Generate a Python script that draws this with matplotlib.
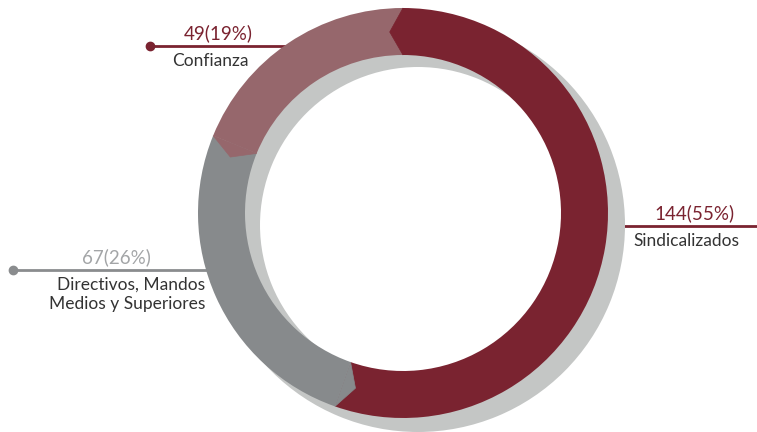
import numpy as np
import matplotlib.pyplot as plt
from matplotlib.patches import Polygon

# data
categories = ["Sindicalizados", "Directivos, Mandos\nMedios y Superiores", "Confianza"]
counts = [144, 67, 49]
percents = [55, 26, 19]
colors = ["#7a2330", "#878a8c", "#96676c"]
num_colors = ["#7a2330", "#a3a5a7", "#7a2330"]
line_colors = ["#7a2330", "#8a8c8e", "#7a2330"]

W, H = 757, 432
cx, cy = 403, H - 213
r_out, ring_w = 205, 47
r_in = r_out - ring_w

plt.rcParams['font.family'] = ['Lato', 'DejaVu Sans']

fig = plt.figure(figsize=(W / 100, H / 100), dpi=100)
ax = fig.add_axes([0, 0, 1, 1])

# shadow ring
ax.pie([1], colors=["#c4c6c5"], radius=r_out + 2, center=(cx + 15, cy - 12),
       wedgeprops=dict(width=ring_w + 2, linewidth=0), frame=True)

# main ring
ax.pie(counts, colors=colors, radius=r_out, center=(cx, cy), startangle=90,
       counterclock=False, wedgeprops=dict(width=ring_w, linewidth=0), frame=True)

# chevron tips at the start of each segment
fracs = np.array(counts) / sum(counts)
starts = 90 - 360 * np.concatenate([[0], np.cumsum(fracs)[:-1]])
r_mid = (r_out + r_in) / 2
for th, col in zip(starts, colors):
    t0 = np.radians(th)
    t1 = np.radians(th + 4.2)
    pts = [(cx + r_out * np.cos(t0), cy + r_out * np.sin(t0)),
           (cx + r_mid * np.cos(t1), cy + r_mid * np.sin(t1)),
           (cx + r_in * np.cos(t0), cy + r_in * np.sin(t0))]
    ax.add_patch(Polygon(pts, closed=True, facecolor=col, edgecolor=col,
                         linewidth=0.5, zorder=3))

ax.set_xlim(0, W)
ax.set_ylim(0, H)
ax.set_aspect('equal')
ax.axis('off')

num_kw = dict(fontsize=13.5, ha='center', va='bottom')
lab_kw = dict(color="#333333", fontsize=12.5, va='top')

# Sindicalizados
y = H - 226
ax.plot([608, W], [y, y], color=line_colors[0], lw=2, zorder=0.5)
ax.text(694, y + 4, f"{counts[0]}({percents[0]}%)", color=num_colors[0], **num_kw)
ax.text(686, y - 7, categories[0], ha='center', **lab_kw)

# Directivos
y = H - 270
ax.plot([13, 215], [y, y], color=line_colors[1], lw=2, zorder=0.5)
ax.plot([13], [y], 'o', color=line_colors[1], ms=6, zorder=0.6)
ax.text(116, y + 4, f"{counts[1]}({percents[1]}%)", color=num_colors[1], **num_kw)
ax.text(205, y - 7, categories[1], ha='right', linespacing=1.25, **lab_kw)

# Confianza
y = H - 46
ax.plot([150, 295], [y, y], color=line_colors[2], lw=2, zorder=0.5)
ax.plot([150], [y], 'o', color=line_colors[2], ms=6, zorder=0.6)
ax.text(218, y + 4, f"{counts[2]}({percents[2]}%)", color=num_colors[2], **num_kw)
ax.text(210, y - 7, categories[2], ha='center', **lab_kw)

fig.savefig("out.png", dpi=100)
